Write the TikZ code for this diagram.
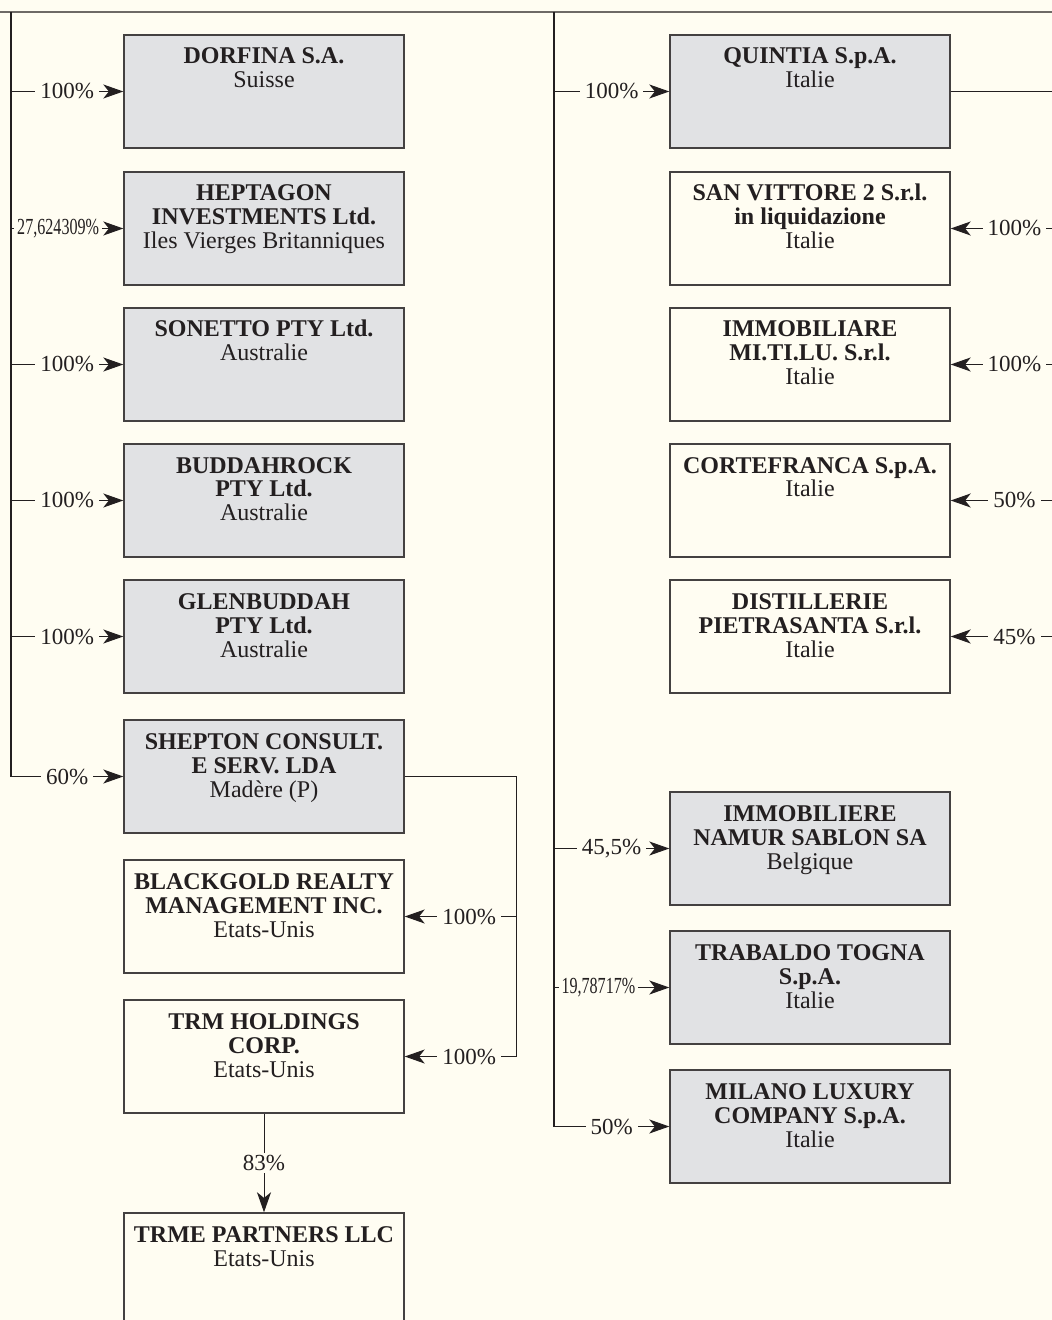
\documentclass[tikz,border=0pt]{standalone}
\usepackage{fontspec}
\setmainfont{Liberation Serif}
\usetikzlibrary{arrows.meta}
\definecolor{paper}{HTML}{FFFDF2}
\definecolor{boxgray}{HTML}{E1E2E4}
\definecolor{ink}{HTML}{231F20}
\definecolor{rule}{HTML}{6E6A66}
% top-aligned text block inside a box
\newcommand\firmtext[1]{\begin{tabular}[t]{@{}c@{}}#1\end{tabular}}
\tikzset{
  firm/.style={draw=ink!85, line width=0.7pt, fill=paper, minimum width=140pt,
    inner xsep=0pt, inner ysep=0pt, text height=14.5pt, text depth=42pt,
    text=ink, font=\fontsize{12}{12}\selectfont},
  held/.style={firm, fill=boxgray},
  trunk/.style={draw=ink, line width=1pt},
  wire/.style={draw=ink, line width=0.5pt},
  link/.style={wire, -{Stealth[length=10pt,width=7pt,inset=2.8pt]}},
  pct/.style={fill=paper, inner xsep=2.5pt, inner ysep=1pt, text=ink,
    font=\fontsize{11.5}{11.5}\selectfont}
}
\begin{document}
\begin{tikzpicture}[x=0.5pt,y=-0.5pt]
 \clip (0,0) rectangle (1052,1320);
 \fill[paper] (0,0) rectangle (1052,1320);
 \draw[rule,line width=0.7pt] (0,12) -- (1052,12);
 % left column
 \node[held] (dorfina) at (264,91.5) {\firmtext{\textbf{DORFINA S.A.}\\Suisse}};
 \node[held] (heptagon) at (264,228.5) {\firmtext{\textbf{HEPTAGON}\\\textbf{INVESTMENTS Ltd.}\\Iles Vierges Britanniques}};
 \node[held] (sonetto) at (264,364.5) {\firmtext{\textbf{SONETTO PTY Ltd.}\\Australie}};
 \node[held] (buddahrock) at (264,500.5) {\firmtext{\textbf{BUDDAHROCK}\\\textbf{PTY Ltd.}\\Australie}};
 \node[held] (glenbuddah) at (264,636.5) {\firmtext{\textbf{GLENBUDDAH}\\\textbf{PTY Ltd.}\\Australie}};
 \node[held] (shepton) at (264,776.5) {\firmtext{\textbf{SHEPTON CONSULT.}\\\textbf{E SERV. LDA}\\Madère (P)}};
 \node[firm] (blackgold) at (264,916.5) {\firmtext{\textbf{BLACKGOLD REALTY}\\\textbf{MANAGEMENT INC.}\\Etats-Unis}};
 \node[firm] (trm) at (264,1056.5) {\firmtext{\textbf{TRM HOLDINGS}\\\textbf{CORP.}\\Etats-Unis}};
 \node[firm] (trme) at (264,1269.5) {\firmtext{\textbf{TRME PARTNERS LLC}\\Etats-Unis}};
 % right column
 \node[held] (quintia) at (810,91.5) {\firmtext{\textbf{QUINTIA S.p.A.}\\Italie}};
 \node[firm] (sanvittore) at (810,228.5) {\firmtext{\textbf{SAN VITTORE 2 S.r.l.}\\\textbf{in liquidazione}\\Italie}};
 \node[firm] (mitilu) at (810,364.5) {\firmtext{\textbf{IMMOBILIARE}\\\textbf{MI.TI.LU. S.r.l.}\\Italie}};
 \node[firm] (cortefranca) at (810,500.5) {\firmtext{\textbf{CORTEFRANCA S.p.A.}\\Italie}};
 \node[firm] (pietrasanta) at (810,636.5) {\firmtext{\textbf{DISTILLERIE}\\\textbf{PIETRASANTA S.r.l.}\\Italie}};
 \node[held] (namur) at (810,848.5) {\firmtext{\textbf{IMMOBILIERE}\\\textbf{NAMUR SABLON SA}\\Belgique}};
 \node[held] (trabaldo) at (810,987.5) {\firmtext{\textbf{TRABALDO TOGNA}\\\textbf{S.p.A.}\\Italie}};
 \node[held] (milano) at (810,1126.5) {\firmtext{\textbf{MILANO LUXURY}\\\textbf{COMPANY S.p.A.}\\Italie}};

 % trunks
 \coordinate (ltop) at (11,12);
 \coordinate (mtop) at (554,12);
 \coordinate (redge) at (1052,0);
 \coordinate (sbus) at (516,0);
 \draw[trunk] (ltop) -- (ltop |- shepton.west);
 \draw[trunk] (mtop) -- (mtop |- milano.west);

 % left links
 \draw[link] (ltop |- dorfina.west) -- node[pct]{100\%} (dorfina.west);
 \draw[link] (ltop |- heptagon.west) -- node[pct,pos=0.42,inner xsep=1.5pt]{\scalebox{0.7}[1]{27,624309\%}} (heptagon.west);
 \draw[link] (ltop |- sonetto.west) -- node[pct]{100\%} (sonetto.west);
 \draw[link] (ltop |- buddahrock.west) -- node[pct]{100\%} (buddahrock.west);
 \draw[link] (ltop |- glenbuddah.west) -- node[pct]{100\%} (glenbuddah.west);
 \draw[link] (ltop |- shepton.west) -- node[pct]{60\%} (shepton.west);

 % shepton holdings
 \draw[wire] (shepton.east) -| (sbus |- trm.east);
 \draw[link] (sbus |- blackgold.east) -- node[pct,pos=0.42]{100\%} (blackgold.east);
 \draw[link] (sbus |- trm.east) -- node[pct,pos=0.42]{100\%} (trm.east);
 \draw[link] (trm.south) -- node[pct]{83\%} (trme.north);

 % middle links
 \draw[link] (mtop |- quintia.west) -- node[pct]{100\%} (quintia.west);
 \draw[link] (mtop |- namur.west) -- node[pct]{45,5\%} (namur.west);
 \draw[link] (mtop |- trabaldo.west) -- node[pct,pos=0.385,inner xsep=1.5pt]{\scalebox{0.7}[1]{19,78717\%}} (trabaldo.west);
 \draw[link] (mtop |- milano.west) -- node[pct]{50\%} (milano.west);

 % right links
 \draw[wire] (quintia.east) -- (redge |- quintia.east);
 \draw[link] (redge |- sanvittore.east) -- node[pct,pos=0.37]{100\%} (sanvittore.east);
 \draw[link] (redge |- mitilu.east) -- node[pct,pos=0.37]{100\%} (mitilu.east);
 \draw[link] (redge |- cortefranca.east) -- node[pct,pos=0.37]{50\%} (cortefranca.east);
 \draw[link] (redge |- pietrasanta.east) -- node[pct,pos=0.37]{45\%} (pietrasanta.east);
\end{tikzpicture}
\end{document}
